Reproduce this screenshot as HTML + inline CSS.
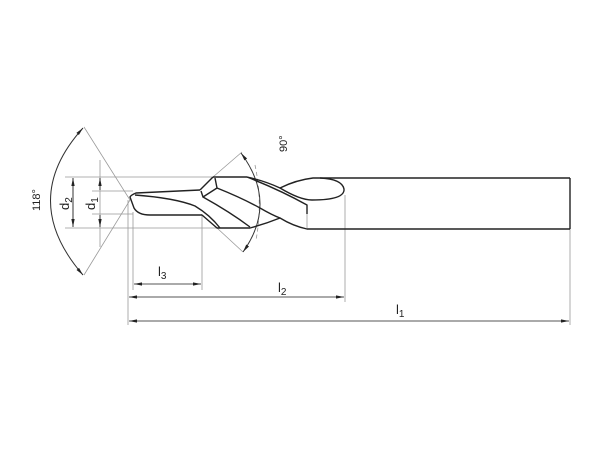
<!DOCTYPE html>
<html><head><style>html,body{margin:0;padding:0;background:#fff;width:600px;height:450px;overflow:hidden}</style></head>
<body>
<svg width="600" height="450" viewBox="0 0 600 450" xmlns="http://www.w3.org/2000/svg" font-family="Liberation Sans, sans-serif">
<defs>
<marker id="a" viewBox="0 0 12 6" refX="12" refY="3" markerWidth="10" markerHeight="4" markerUnits="userSpaceOnUse" orient="auto-start-reverse"><path d="M0,0.5 L12,3 L0,5.5 z" fill="#222"/></marker>
</defs>
<g fill="none" stroke="#999" stroke-width="0.8">
<line x1="65" y1="177" x2="213" y2="177"/>
<line x1="65" y1="228" x2="217" y2="228"/>
<line x1="92" y1="191" x2="133" y2="191"/>
<line x1="92" y1="214" x2="133" y2="214"/>
<line x1="100" y1="160" x2="100" y2="247"/>
<line x1="128" y1="200" x2="128" y2="325"/>
<line x1="133" y1="212" x2="133" y2="290"/>
<line x1="202" y1="214" x2="202" y2="290"/>
<line x1="345" y1="195" x2="345" y2="302"/>
<line x1="570" y1="229" x2="570" y2="325"/>
<line x1="84" y1="127" x2="130" y2="200"/>
<line x1="84" y1="275" x2="130" y2="200"/>
<line x1="242" y1="152" x2="213" y2="177"/>
<line x1="243" y1="252" x2="217" y2="228"/>
<path d="M255,165 Q263,203 256,240" stroke-dasharray="4,3"/>
<line x1="307" y1="205" x2="307" y2="228"/>
</g>
<g fill="none" stroke="#333" stroke-width="1">
<path d="M83,128 Q18,200 83,275" marker-start="url(#a)" marker-end="url(#a)"/>
<path d="M241,153 Q278,203 243,252" marker-start="url(#a)" marker-end="url(#a)"/>
<line x1="73" y1="178" x2="73" y2="227" marker-start="url(#a)" marker-end="url(#a)"/>
<line x1="100" y1="178" x2="100" y2="190" marker-start="url(#a)"/>
<line x1="100" y1="215" x2="100" y2="227" marker-end="url(#a)"/>
</g>
<g fill="none" stroke="#555" stroke-width="0.9">
<line x1="134" y1="284" x2="201" y2="284" marker-start="url(#a)" marker-end="url(#a)"/>
<line x1="129" y1="297" x2="344" y2="297" marker-start="url(#a)" marker-end="url(#a)"/>
<line x1="129" y1="321" x2="569" y2="321" marker-start="url(#a)" marker-end="url(#a)"/>
</g>
<g fill="none" stroke="#222" stroke-width="1.4" stroke-linejoin="round">
<!-- top edge with dip -->
<path d="M213,177 L247,177 Q265,181 280,188 Q296,180 313,178 L570,178"/>
<!-- bottom edge with rise -->
<path d="M202,215 L217,228 L250,228 Q265,224 280,218 Q293,226 307,229 L570,229"/>
<line x1="570" y1="178" x2="570" y2="229"/>
<!-- pilot -->
<path d="M200,190 L136,193 Q131,195 130,197 L134,208 Q138,215 150,215 L202,215"/>
<path d="M200,190 L213,177"/>
<!-- step facet -->
<path d="M201,191 L203,197 L217,188 L215,178"/>
<!-- pilot flute -->
<path d="M135,195 Q175,198 195,206 Q210,215 220,228"/>
<!-- flutes -->
<path d="M203,197 Q230,212 250,227"/>
<path d="M217,188 Q242,198 260,208 Q272,215 280,218"/>
<path d="M247,177 Q280,190 307,205 L307,214"/>
<path d="M280,188 Q300,200 312,200 Q345,200 344,189 Q342,179 320,178"/>
</g>
<g fill="#222" font-size="13">
<text x="158" y="276">l<tspan font-size="10" dy="3">3</tspan></text>
<text x="278" y="292">l<tspan font-size="10" dy="3">2</tspan></text>
<text x="396" y="314">l<tspan font-size="10" dy="3">1</tspan></text>
<text transform="translate(69,210) rotate(-90)">d<tspan font-size="10" dy="3">2</tspan></text>
<text transform="translate(95,210) rotate(-90)">d<tspan font-size="10" dy="3">1</tspan></text>
<text transform="translate(40,211) rotate(-90)" font-size="11">118°</text>
<text transform="translate(287,152) rotate(-90)" font-size="11">90°</text>
</g>
</svg>
</body></html>
